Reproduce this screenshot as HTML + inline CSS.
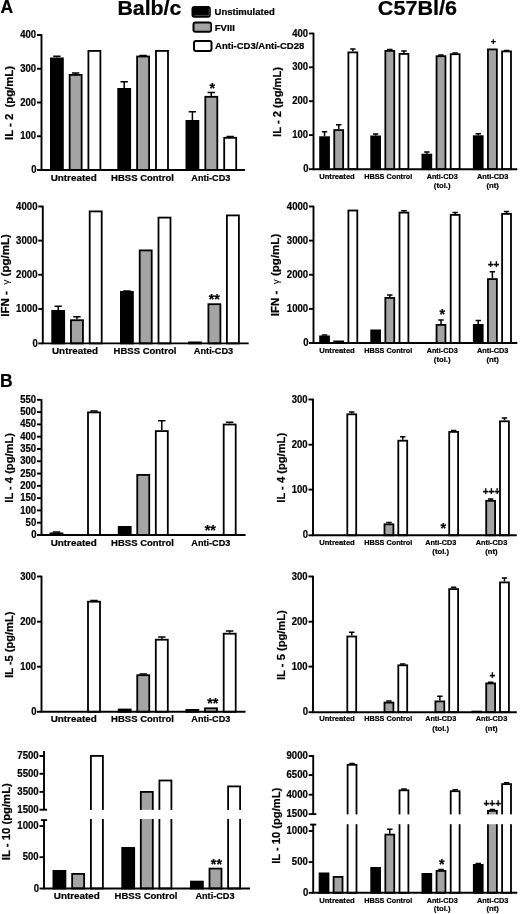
<!DOCTYPE html>
<html><head><meta charset="utf-8"><title>Figure</title>
<style>
html,body{margin:0;padding:0;background:#fff;}
body{width:520px;height:914px;overflow:hidden;font-family:"Liberation Sans",sans-serif;}
text{stroke:#000;stroke-width:0.22px;}
svg{display:block;will-change:transform;font-family:"Liberation Sans",sans-serif;font-weight:bold;fill:#000;}
</style></head><body>
<svg width="520" height="914" viewBox="0 0 520 914">
<rect width="520" height="914" fill="#fff"/>
<text x="0.4" y="13" font-size="17.5" text-anchor="start" >A</text>
<text x="0" y="386.8" font-size="17.5" text-anchor="start" >B</text>
<text x="117.4" y="15.4" font-size="20.5" text-anchor="start" textLength="64" lengthAdjust="spacingAndGlyphs">Balb/c</text>
<text x="377.8" y="15.4" font-size="20.5" text-anchor="start" textLength="79.2" lengthAdjust="spacingAndGlyphs">C57Bl/6</text>
<rect x="192.5" y="6.9" width="17.3" height="9.9" rx="2" fill="#000" stroke="#000" stroke-width="2"/>
<rect x="193.5" y="22.4" width="17.5" height="9.3" rx="2" fill="#a4a4a4" stroke="#000" stroke-width="2"/>
<rect x="194" y="41" width="17.5" height="10" rx="2" fill="#fff" stroke="#000" stroke-width="2"/>
<path d="M194.3,15.4 H209.2 V8.6" stroke="#6a6a6a" stroke-width="0.7" fill="none"/>
<path d="M195.2,30.4 H210.2 V23.8" stroke="#7c7c7c" stroke-width="0.7" fill="none"/>
<text x="214.6" y="14.6" font-size="9.5" text-anchor="start" >Unstimulated</text>
<text x="214.8" y="30.6" font-size="9.5" text-anchor="start" >FVIII</text>
<text x="215.1" y="48.7" font-size="9.5" text-anchor="start" >Anti-CD3/Anti-CD28</text>
<path d="M56.9,57.5 V56.2 M53.199999999999996,56.2 H60.6" stroke="#000" stroke-width="1.5" fill="none"/>
<rect x="50.9" y="58.4" width="12.0" height="111.6" fill="#000" stroke="#000" stroke-width="1.8"/>
<path d="M75.65,74 V73.0 M71.95,73.0 H79.35000000000001" stroke="#000" stroke-width="1.5" fill="none"/>
<rect x="69.65" y="74.9" width="12.0" height="95.1" fill="#a4a4a4" stroke="#000" stroke-width="1.8"/>
<rect x="88.4" y="50.9" width="12.0" height="119.1" fill="#fff" stroke="#000" stroke-width="1.8"/>
<path d="M124.2,88 V81.8 M120.5,81.8 H127.9" stroke="#000" stroke-width="1.5" fill="none"/>
<rect x="118.2" y="88.9" width="12.0" height="81.1" fill="#000" stroke="#000" stroke-width="1.8"/>
<path d="M143.1,55.6 V55.5 M139.4,55.5 H146.79999999999998" stroke="#000" stroke-width="1.5" fill="none"/>
<rect x="137.1" y="56.5" width="12.0" height="113.5" fill="#a4a4a4" stroke="#000" stroke-width="1.8"/>
<rect x="156.0" y="50.9" width="12.0" height="119.1" fill="#fff" stroke="#000" stroke-width="1.8"/>
<path d="M192.4,120 V111.7 M188.70000000000002,111.7 H196.1" stroke="#000" stroke-width="1.5" fill="none"/>
<rect x="186.4" y="120.9" width="12.0" height="49.1" fill="#000" stroke="#000" stroke-width="1.8"/>
<path d="M211.3,95.9 V92.5 M207.60000000000002,92.5 H215.0" stroke="#000" stroke-width="1.5" fill="none"/>
<rect x="205.3" y="96.80000000000001" width="12.0" height="73.19999999999999" fill="#a4a4a4" stroke="#000" stroke-width="1.8"/>
<path d="M230.20000000000002,136.9 V136.5 M226.50000000000003,136.5 H233.9" stroke="#000" stroke-width="1.5" fill="none"/>
<rect x="224.20000000000002" y="137.8" width="12.0" height="32.199999999999996" fill="#fff" stroke="#000" stroke-width="1.8"/>
<path d="M41.5,34.2 V170 H245" stroke="#000" stroke-width="1.9" fill="none" stroke-linejoin="miter"/>
<path d="M37.0,35 H41.5" stroke="#000" stroke-width="1.9"/>
<text x="36.0" y="38.1" font-size="10.3" text-anchor="end" textLength="15.85" lengthAdjust="spacingAndGlyphs">400</text>
<path d="M37.0,68.75 H41.5" stroke="#000" stroke-width="1.9"/>
<text x="36.0" y="71.85" font-size="10.3" text-anchor="end" textLength="15.85" lengthAdjust="spacingAndGlyphs">300</text>
<path d="M37.0,102.5 H41.5" stroke="#000" stroke-width="1.9"/>
<text x="36.0" y="105.6" font-size="10.3" text-anchor="end" textLength="15.85" lengthAdjust="spacingAndGlyphs">200</text>
<path d="M37.0,136.25 H41.5" stroke="#000" stroke-width="1.9"/>
<text x="36.0" y="139.35" font-size="10.3" text-anchor="end" textLength="15.85" lengthAdjust="spacingAndGlyphs">100</text>
<path d="M37.0,170 H41.5" stroke="#000" stroke-width="1.9"/>
<text x="36.5" y="173.1" font-size="10.3" text-anchor="end" textLength="5.3" lengthAdjust="spacingAndGlyphs">0</text>
<text x="73.7" y="181.2" font-size="9.5" text-anchor="middle" textLength="46" lengthAdjust="spacingAndGlyphs">Untreated</text>
<text x="142.5" y="181.2" font-size="9.5" text-anchor="middle" >HBSS Control</text>
<text x="210.8" y="181.2" font-size="9.5" text-anchor="middle" textLength="39" lengthAdjust="spacingAndGlyphs">Anti-CD3</text>
<text transform="translate(12.8,103) rotate(-90)" font-size="10.5" text-anchor="middle" xml:space="preserve" textLength="74" lengthAdjust="spacingAndGlyphs">IL - 2  (pg/mL)</text>
<text x="212.4" y="93.1" font-size="14.3" text-anchor="middle" >*</text>
<path d="M324.55,136.3 V131.8 M321.85,131.8 H327.25" stroke="#000" stroke-width="1.5" fill="none"/>
<rect x="320.09999999999997" y="137.20000000000002" width="8.899999999999999" height="31.99999999999998" fill="#000" stroke="#000" stroke-width="1.8"/>
<path d="M338.7,129.2 V124.7 M336.0,124.7 H341.4" stroke="#000" stroke-width="1.5" fill="none"/>
<rect x="334.24999999999994" y="130.1" width="8.899999999999999" height="39.1" fill="#a4a4a4" stroke="#000" stroke-width="1.8"/>
<path d="M352.85,51.5 V49.0 M350.15000000000003,49.0 H355.55" stroke="#000" stroke-width="1.5" fill="none"/>
<rect x="348.4" y="52.4" width="8.899999999999999" height="116.79999999999998" fill="#fff" stroke="#000" stroke-width="1.8"/>
<path d="M375.65000000000003,135.5 V134.0 M372.95000000000005,134.0 H378.35" stroke="#000" stroke-width="1.5" fill="none"/>
<rect x="371.2" y="136.4" width="8.899999999999999" height="32.79999999999999" fill="#000" stroke="#000" stroke-width="1.8"/>
<path d="M389.8,50 V49.5 M387.1,49.5 H392.5" stroke="#000" stroke-width="1.5" fill="none"/>
<rect x="385.34999999999997" y="50.9" width="8.899999999999999" height="118.29999999999998" fill="#a4a4a4" stroke="#000" stroke-width="1.8"/>
<path d="M403.95000000000005,53 V51.0 M401.25000000000006,51.0 H406.65000000000003" stroke="#000" stroke-width="1.5" fill="none"/>
<rect x="399.5" y="53.9" width="8.899999999999999" height="115.29999999999998" fill="#fff" stroke="#000" stroke-width="1.8"/>
<path d="M426.85,153.7 V152.1 M424.15000000000003,152.1 H429.55" stroke="#000" stroke-width="1.5" fill="none"/>
<rect x="422.4" y="154.6" width="8.899999999999999" height="14.6" fill="#000" stroke="#000" stroke-width="1.8"/>
<path d="M441.0,55.3 V54.9 M438.3,54.9 H443.7" stroke="#000" stroke-width="1.5" fill="none"/>
<rect x="436.54999999999995" y="56.199999999999996" width="8.899999999999999" height="112.99999999999999" fill="#a4a4a4" stroke="#000" stroke-width="1.8"/>
<path d="M455.15000000000003,53.3 V52.9 M452.45000000000005,52.9 H457.85" stroke="#000" stroke-width="1.5" fill="none"/>
<rect x="450.7" y="54.199999999999996" width="8.899999999999999" height="114.99999999999999" fill="#fff" stroke="#000" stroke-width="1.8"/>
<path d="M478.25,135.3 V133.8 M475.55,133.8 H480.95" stroke="#000" stroke-width="1.5" fill="none"/>
<rect x="473.79999999999995" y="136.20000000000002" width="8.899999999999999" height="32.99999999999998" fill="#000" stroke="#000" stroke-width="1.8"/>
<rect x="487.94999999999993" y="49.4" width="8.899999999999999" height="119.79999999999998" fill="#a4a4a4" stroke="#000" stroke-width="1.8"/>
<path d="M506.55,50.5 V50.5 M503.85,50.5 H509.25" stroke="#000" stroke-width="1.5" fill="none"/>
<rect x="502.09999999999997" y="51.4" width="8.899999999999999" height="117.79999999999998" fill="#fff" stroke="#000" stroke-width="1.8"/>
<path d="M313.5,32.7 V169.2 H517.3" stroke="#000" stroke-width="1.9" fill="none" stroke-linejoin="miter"/>
<path d="M309.0,33.5 H313.5" stroke="#000" stroke-width="1.9"/>
<text x="308.0" y="36.6" font-size="10.3" text-anchor="end" textLength="15.85" lengthAdjust="spacingAndGlyphs">400</text>
<path d="M309.0,67.3 H313.5" stroke="#000" stroke-width="1.9"/>
<text x="308.0" y="70.39999999999999" font-size="10.3" text-anchor="end" textLength="15.85" lengthAdjust="spacingAndGlyphs">300</text>
<path d="M309.0,101.2 H313.5" stroke="#000" stroke-width="1.9"/>
<text x="308.0" y="104.3" font-size="10.3" text-anchor="end" textLength="15.85" lengthAdjust="spacingAndGlyphs">200</text>
<path d="M309.0,135.1 H313.5" stroke="#000" stroke-width="1.9"/>
<text x="308.0" y="138.2" font-size="10.3" text-anchor="end" textLength="15.85" lengthAdjust="spacingAndGlyphs">100</text>
<path d="M309.0,169.2 H313.5" stroke="#000" stroke-width="1.9"/>
<text x="308.5" y="172.29999999999998" font-size="10.3" text-anchor="end" textLength="5.3" lengthAdjust="spacingAndGlyphs">0</text>
<text x="337" y="179" font-size="7.7" text-anchor="middle" textLength="35.6" lengthAdjust="spacingAndGlyphs">Untreated</text>
<text x="388.3" y="179" font-size="7.7" text-anchor="middle" textLength="48" lengthAdjust="spacingAndGlyphs">HBSS Control</text>
<text x="442.2" y="179" font-size="7.7" text-anchor="middle" textLength="31" lengthAdjust="spacingAndGlyphs">Anti-CD3</text>
<text x="442.2" y="188.3" font-size="7.7" text-anchor="middle" >(tol.)</text>
<text x="492.7" y="179" font-size="7.7" text-anchor="middle" textLength="31.5" lengthAdjust="spacingAndGlyphs">Anti-CD3</text>
<text x="492.7" y="188.3" font-size="7.7" text-anchor="middle" >(nt)</text>
<text transform="translate(281.2,101.9) rotate(-90)" font-size="11" text-anchor="middle" xml:space="preserve" textLength="70" lengthAdjust="spacingAndGlyphs">IL - 2 (pg/mL)</text>
<text x="493.4" y="45.3" font-size="9" text-anchor="middle" stroke="#000" stroke-width="0.35">+</text>
<path d="M58.199999999999996,310 V306.3 M54.49999999999999,306.3 H61.9" stroke="#000" stroke-width="1.5" fill="none"/>
<rect x="52.199999999999996" y="310.9" width="12.0" height="32.49999999999998" fill="#000" stroke="#000" stroke-width="1.8"/>
<path d="M76.95,319.3 V316.8 M73.25,316.8 H80.65" stroke="#000" stroke-width="1.5" fill="none"/>
<rect x="70.95" y="320.2" width="12.0" height="23.199999999999967" fill="#a4a4a4" stroke="#000" stroke-width="1.8"/>
<rect x="89.7" y="211.4" width="12.0" height="131.99999999999997" fill="#fff" stroke="#000" stroke-width="1.8"/>
<path d="M126.9,291 V291.0 M123.2,291.0 H130.6" stroke="#000" stroke-width="1.5" fill="none"/>
<rect x="120.9" y="291.9" width="12.0" height="51.49999999999998" fill="#000" stroke="#000" stroke-width="1.8"/>
<rect x="139.70000000000002" y="250.4" width="12.0" height="92.99999999999997" fill="#a4a4a4" stroke="#000" stroke-width="1.8"/>
<rect x="158.5" y="217.6" width="12.0" height="125.79999999999998" fill="#fff" stroke="#000" stroke-width="1.8"/>
<rect x="189.1" y="342.4" width="12.0" height="0.9999999999999772" fill="#000" stroke="#000" stroke-width="1.8"/>
<rect x="208.4" y="304.2" width="12.0" height="39.19999999999997" fill="#a4a4a4" stroke="#000" stroke-width="1.8"/>
<rect x="226.9" y="215.4" width="12.0" height="127.99999999999997" fill="#fff" stroke="#000" stroke-width="1.8"/>
<path d="M42.8,205.7 V343.4 H248.7" stroke="#000" stroke-width="1.9" fill="none" stroke-linejoin="miter"/>
<path d="M38.3,206.5 H42.8" stroke="#000" stroke-width="1.9"/>
<text x="37.5" y="209.6" font-size="10.3" text-anchor="end" textLength="21.4" lengthAdjust="spacingAndGlyphs">4000</text>
<path d="M38.3,240.6 H42.8" stroke="#000" stroke-width="1.9"/>
<text x="37.5" y="243.7" font-size="10.3" text-anchor="end" textLength="21.4" lengthAdjust="spacingAndGlyphs">3000</text>
<path d="M38.3,274.75 H42.8" stroke="#000" stroke-width="1.9"/>
<text x="37.5" y="277.85" font-size="10.3" text-anchor="end" textLength="21.4" lengthAdjust="spacingAndGlyphs">2000</text>
<path d="M38.3,308.9 H42.8" stroke="#000" stroke-width="1.9"/>
<text x="37.5" y="312.0" font-size="10.3" text-anchor="end" textLength="21.4" lengthAdjust="spacingAndGlyphs">1000</text>
<path d="M38.3,343.4 H42.8" stroke="#000" stroke-width="1.9"/>
<text x="37.8" y="346.5" font-size="10.3" text-anchor="end" textLength="5.3" lengthAdjust="spacingAndGlyphs">0</text>
<text x="75" y="354" font-size="9.5" text-anchor="middle" textLength="46" lengthAdjust="spacingAndGlyphs">Untreated</text>
<text x="145" y="354" font-size="9.5" text-anchor="middle" >HBSS Control</text>
<text x="213.5" y="354" font-size="9.5" text-anchor="middle" textLength="39.5" lengthAdjust="spacingAndGlyphs">Anti-CD3</text>
<text transform="translate(8.7,275.5) rotate(-90)" font-size="10.5" text-anchor="middle" xml:space="preserve" textLength="82.5" lengthAdjust="spacingAndGlyphs">IFN -  <tspan font-weight="normal" font-size="9.5" stroke-width="0">γ</tspan> (pg/mL)</text>
<text x="214.2" y="303.7" font-size="14.3" text-anchor="middle" >**</text>
<path d="M324.55,335.5 V335.0 M321.85,335.0 H327.25" stroke="#000" stroke-width="1.5" fill="none"/>
<rect x="320.09999999999997" y="336.4" width="8.899999999999999" height="6.6" fill="#000" stroke="#000" stroke-width="1.8"/>
<rect x="334.24999999999994" y="341.4" width="8.899999999999999" height="1.6" fill="#a4a4a4" stroke="#000" stroke-width="1.8"/>
<rect x="348.4" y="210.5" width="8.899999999999999" height="132.5" fill="#fff" stroke="#000" stroke-width="1.8"/>
<rect x="371.2" y="330.4" width="8.899999999999999" height="12.6" fill="#000" stroke="#000" stroke-width="1.8"/>
<path d="M389.8,297 V295.0 M387.1,295.0 H392.5" stroke="#000" stroke-width="1.5" fill="none"/>
<rect x="385.34999999999997" y="297.9" width="8.899999999999999" height="45.1" fill="#a4a4a4" stroke="#000" stroke-width="1.8"/>
<path d="M403.95000000000005,211.7 V210.7 M401.25000000000006,210.7 H406.65000000000003" stroke="#000" stroke-width="1.5" fill="none"/>
<rect x="399.5" y="212.6" width="8.899999999999999" height="130.4" fill="#fff" stroke="#000" stroke-width="1.8"/>
<path d="M441.0,324 V320.0 M438.3,320.0 H443.7" stroke="#000" stroke-width="1.5" fill="none"/>
<rect x="436.54999999999995" y="324.9" width="8.899999999999999" height="18.1" fill="#a4a4a4" stroke="#000" stroke-width="1.8"/>
<path d="M455.15000000000003,214 V212.5 M452.45000000000005,212.5 H457.85" stroke="#000" stroke-width="1.5" fill="none"/>
<rect x="450.7" y="214.9" width="8.899999999999999" height="128.1" fill="#fff" stroke="#000" stroke-width="1.8"/>
<path d="M478.25,324 V320.5 M475.55,320.5 H480.95" stroke="#000" stroke-width="1.5" fill="none"/>
<rect x="473.79999999999995" y="324.9" width="8.899999999999999" height="18.1" fill="#000" stroke="#000" stroke-width="1.8"/>
<path d="M492.4,278.2 V271.8 M489.7,271.8 H495.09999999999997" stroke="#000" stroke-width="1.5" fill="none"/>
<rect x="487.94999999999993" y="279.09999999999997" width="8.899999999999999" height="63.90000000000001" fill="#a4a4a4" stroke="#000" stroke-width="1.8"/>
<path d="M506.55,213 V211.5 M503.85,211.5 H509.25" stroke="#000" stroke-width="1.5" fill="none"/>
<rect x="502.09999999999997" y="213.9" width="8.899999999999999" height="129.1" fill="#fff" stroke="#000" stroke-width="1.8"/>
<path d="M313.5,205.7 V343 H517.3" stroke="#000" stroke-width="1.9" fill="none" stroke-linejoin="miter"/>
<path d="M309.0,206.5 H313.5" stroke="#000" stroke-width="1.9"/>
<text x="308.2" y="209.6" font-size="10.3" text-anchor="end" textLength="21.4" lengthAdjust="spacingAndGlyphs">4000</text>
<path d="M309.0,240.6 H313.5" stroke="#000" stroke-width="1.9"/>
<text x="308.2" y="243.7" font-size="10.3" text-anchor="end" textLength="21.4" lengthAdjust="spacingAndGlyphs">3000</text>
<path d="M309.0,274.75 H313.5" stroke="#000" stroke-width="1.9"/>
<text x="308.2" y="277.85" font-size="10.3" text-anchor="end" textLength="21.4" lengthAdjust="spacingAndGlyphs">2000</text>
<path d="M309.0,308.9 H313.5" stroke="#000" stroke-width="1.9"/>
<text x="308.2" y="312.0" font-size="10.3" text-anchor="end" textLength="21.4" lengthAdjust="spacingAndGlyphs">1000</text>
<path d="M309.0,343 H313.5" stroke="#000" stroke-width="1.9"/>
<text x="308.5" y="346.1" font-size="10.3" text-anchor="end" textLength="5.3" lengthAdjust="spacingAndGlyphs">0</text>
<text x="337" y="352.5" font-size="7.7" text-anchor="middle" textLength="35.6" lengthAdjust="spacingAndGlyphs">Untreated</text>
<text x="388.3" y="352.5" font-size="7.7" text-anchor="middle" textLength="48" lengthAdjust="spacingAndGlyphs">HBSS Control</text>
<text x="442.2" y="352.5" font-size="7.7" text-anchor="middle" textLength="31" lengthAdjust="spacingAndGlyphs">Anti-CD3</text>
<text x="442.2" y="362" font-size="7.7" text-anchor="middle" >(tol.)</text>
<text x="492.7" y="352.5" font-size="7.7" text-anchor="middle" textLength="31.5" lengthAdjust="spacingAndGlyphs">Anti-CD3</text>
<text x="492.7" y="362" font-size="7.7" text-anchor="middle" >(nt)</text>
<text transform="translate(279.2,275) rotate(-90)" font-size="11" text-anchor="middle" xml:space="preserve" textLength="82.5" lengthAdjust="spacingAndGlyphs">IFN -  <tspan font-weight="normal" font-size="9.5" stroke-width="0">γ</tspan> (pg/mL)</text>
<text x="442.3" y="318.9" font-size="14.3" text-anchor="middle" >*</text>
<text x="493.5" y="267.5" font-size="10" text-anchor="middle" stroke="#000" stroke-width="0.35">++</text>
<path d="M56.5,532.5 V532.0 M52.8,532.0 H60.2" stroke="#000" stroke-width="1.5" fill="none"/>
<rect x="50.5" y="533.4" width="12.0" height="1.6" fill="#000" stroke="#000" stroke-width="1.8"/>
<path d="M94.0,411.5 V411.0 M90.3,411.0 H97.7" stroke="#000" stroke-width="1.5" fill="none"/>
<rect x="88.0" y="412.4" width="12.0" height="122.6" fill="#fff" stroke="#000" stroke-width="1.8"/>
<rect x="118.7" y="526.9" width="12.0" height="8.1" fill="#000" stroke="#000" stroke-width="1.8"/>
<rect x="137.25" y="474.9" width="12.0" height="60.1" fill="#a4a4a4" stroke="#000" stroke-width="1.8"/>
<path d="M161.8,430.2 V420.8 M158.10000000000002,420.8 H165.5" stroke="#000" stroke-width="1.5" fill="none"/>
<rect x="155.8" y="431.09999999999997" width="12.0" height="103.9" fill="#fff" stroke="#000" stroke-width="1.8"/>
<path d="M229.70000000000002,423.6 V422.2 M226.00000000000003,422.2 H233.4" stroke="#000" stroke-width="1.5" fill="none"/>
<rect x="223.70000000000002" y="424.5" width="12.0" height="110.49999999999997" fill="#fff" stroke="#000" stroke-width="1.8"/>
<path d="M41.5,399.2 V535 H245.6" stroke="#000" stroke-width="1.9" fill="none" stroke-linejoin="miter"/>
<path d="M37.0,535.0 H41.5" stroke="#000" stroke-width="1.9"/>
<text x="36.5" y="538.1" font-size="10.3" text-anchor="end" textLength="5.3" lengthAdjust="spacingAndGlyphs">0</text>
<path d="M37.0,522.71 H41.5" stroke="#000" stroke-width="1.9"/>
<text x="36.2" y="525.8100000000001" font-size="10.3" text-anchor="end" textLength="10.6" lengthAdjust="spacingAndGlyphs">50</text>
<path d="M37.0,510.42 H41.5" stroke="#000" stroke-width="1.9"/>
<text x="36.0" y="513.52" font-size="10.3" text-anchor="end" textLength="15.85" lengthAdjust="spacingAndGlyphs">100</text>
<path d="M37.0,498.13 H41.5" stroke="#000" stroke-width="1.9"/>
<text x="36.0" y="501.23" font-size="10.3" text-anchor="end" textLength="15.85" lengthAdjust="spacingAndGlyphs">150</text>
<path d="M37.0,485.84000000000003 H41.5" stroke="#000" stroke-width="1.9"/>
<text x="36.0" y="488.94000000000005" font-size="10.3" text-anchor="end" textLength="15.85" lengthAdjust="spacingAndGlyphs">200</text>
<path d="M37.0,473.55 H41.5" stroke="#000" stroke-width="1.9"/>
<text x="36.0" y="476.65000000000003" font-size="10.3" text-anchor="end" textLength="15.85" lengthAdjust="spacingAndGlyphs">250</text>
<path d="M37.0,461.26 H41.5" stroke="#000" stroke-width="1.9"/>
<text x="36.0" y="464.36" font-size="10.3" text-anchor="end" textLength="15.85" lengthAdjust="spacingAndGlyphs">300</text>
<path d="M37.0,448.97 H41.5" stroke="#000" stroke-width="1.9"/>
<text x="36.0" y="452.07000000000005" font-size="10.3" text-anchor="end" textLength="15.85" lengthAdjust="spacingAndGlyphs">350</text>
<path d="M37.0,436.68 H41.5" stroke="#000" stroke-width="1.9"/>
<text x="36.0" y="439.78000000000003" font-size="10.3" text-anchor="end" textLength="15.85" lengthAdjust="spacingAndGlyphs">400</text>
<path d="M37.0,424.39 H41.5" stroke="#000" stroke-width="1.9"/>
<text x="36.0" y="427.49" font-size="10.3" text-anchor="end" textLength="15.85" lengthAdjust="spacingAndGlyphs">450</text>
<path d="M37.0,412.1 H41.5" stroke="#000" stroke-width="1.9"/>
<text x="36.0" y="415.20000000000005" font-size="10.3" text-anchor="end" textLength="15.85" lengthAdjust="spacingAndGlyphs">500</text>
<path d="M37.0,399.81 H41.5" stroke="#000" stroke-width="1.9"/>
<text x="36.0" y="402.91" font-size="10.3" text-anchor="end" textLength="15.85" lengthAdjust="spacingAndGlyphs">550</text>
<text x="73.7" y="545.5" font-size="9.5" text-anchor="middle" textLength="46" lengthAdjust="spacingAndGlyphs">Untreated</text>
<text x="142.5" y="545.5" font-size="9.5" text-anchor="middle" >HBSS Control</text>
<text x="210.8" y="545.5" font-size="9.5" text-anchor="middle" textLength="39" lengthAdjust="spacingAndGlyphs">Anti-CD3</text>
<text transform="translate(12.9,467.9) rotate(-90)" font-size="10.5" text-anchor="middle" xml:space="preserve" textLength="69.6" lengthAdjust="spacingAndGlyphs">IL - 4 (pg/mL)</text>
<text x="210.3" y="534.6" font-size="14.3" text-anchor="middle" >**</text>
<path d="M351.75000000000006,413.4 V412.1 M349.05000000000007,412.1 H354.45000000000005" stroke="#000" stroke-width="1.5" fill="none"/>
<rect x="347.3" y="414.29999999999995" width="8.899999999999999" height="120.99999999999997" fill="#fff" stroke="#000" stroke-width="1.8"/>
<path d="M388.95000000000005,523.4 V522.5 M386.25000000000006,522.5 H391.65000000000003" stroke="#000" stroke-width="1.5" fill="none"/>
<rect x="384.5" y="524.3" width="8.899999999999999" height="10.999999999999977" fill="#a4a4a4" stroke="#000" stroke-width="1.8"/>
<path d="M402.75000000000006,439.8 V436.7 M400.05000000000007,436.7 H405.45000000000005" stroke="#000" stroke-width="1.5" fill="none"/>
<rect x="398.3" y="440.7" width="8.899999999999999" height="94.59999999999994" fill="#fff" stroke="#000" stroke-width="1.8"/>
<path d="M453.65000000000003,431 V430.5 M450.95000000000005,430.5 H456.35" stroke="#000" stroke-width="1.5" fill="none"/>
<rect x="449.2" y="431.9" width="8.899999999999999" height="103.39999999999995" fill="#fff" stroke="#000" stroke-width="1.8"/>
<path d="M490.65000000000003,499.9 V498.9 M487.95000000000005,498.9 H493.35" stroke="#000" stroke-width="1.5" fill="none"/>
<rect x="486.2" y="500.79999999999995" width="8.899999999999999" height="34.49999999999998" fill="#a4a4a4" stroke="#000" stroke-width="1.8"/>
<path d="M504.45000000000005,420.4 V417.9 M501.75000000000006,417.9 H507.15000000000003" stroke="#000" stroke-width="1.5" fill="none"/>
<rect x="500.0" y="421.29999999999995" width="8.899999999999999" height="113.99999999999997" fill="#fff" stroke="#000" stroke-width="1.8"/>
<path d="M313.0,398.7 V535.3 H516.8" stroke="#000" stroke-width="1.9" fill="none" stroke-linejoin="miter"/>
<path d="M308.5,399.5 H313.0" stroke="#000" stroke-width="1.9"/>
<text x="307.5" y="402.6" font-size="10.3" text-anchor="end" textLength="15.85" lengthAdjust="spacingAndGlyphs">300</text>
<path d="M308.5,444.7 H313.0" stroke="#000" stroke-width="1.9"/>
<text x="307.5" y="447.8" font-size="10.3" text-anchor="end" textLength="15.85" lengthAdjust="spacingAndGlyphs">200</text>
<path d="M308.5,489.6 H313.0" stroke="#000" stroke-width="1.9"/>
<text x="307.5" y="492.70000000000005" font-size="10.3" text-anchor="end" textLength="15.85" lengthAdjust="spacingAndGlyphs">100</text>
<path d="M308.5,535.3 H313.0" stroke="#000" stroke-width="1.9"/>
<text x="308.0" y="538.4" font-size="10.3" text-anchor="end" textLength="5.3" lengthAdjust="spacingAndGlyphs">0</text>
<text x="337" y="544.5" font-size="7.7" text-anchor="middle" textLength="35.6" lengthAdjust="spacingAndGlyphs">Untreated</text>
<text x="388.3" y="544.5" font-size="7.7" text-anchor="middle" textLength="48" lengthAdjust="spacingAndGlyphs">HBSS Control</text>
<text x="440.7" y="544.5" font-size="7.7" text-anchor="middle" textLength="31" lengthAdjust="spacingAndGlyphs">Anti-CD3</text>
<text x="440.7" y="554.3" font-size="7.7" text-anchor="middle" >(tol.)</text>
<text x="491.5" y="544.5" font-size="7.7" text-anchor="middle" textLength="31.5" lengthAdjust="spacingAndGlyphs">Anti-CD3</text>
<text x="491.5" y="554.3" font-size="7.7" text-anchor="middle" >(nt)</text>
<text transform="translate(284.6,467.8) rotate(-90)" font-size="11" text-anchor="middle" xml:space="preserve" textLength="69.8" lengthAdjust="spacingAndGlyphs">IL - 4 (pg/mL)</text>
<text x="443.3" y="532.6" font-size="14.3" text-anchor="middle" >*</text>
<text x="491.4" y="495.3" font-size="10" text-anchor="middle" stroke="#000" stroke-width="0.35">+++</text>
<path d="M94.0,600.8 V600.5 M90.3,600.5 H97.7" stroke="#000" stroke-width="1.5" fill="none"/>
<rect x="88.0" y="601.6999999999999" width="12.0" height="110.1" fill="#fff" stroke="#000" stroke-width="1.8"/>
<rect x="118.7" y="709.5" width="12.0" height="2.299999999999932" fill="#000" stroke="#000" stroke-width="1.8"/>
<path d="M143.25,674.3 V674.0 M139.55,674.0 H146.95" stroke="#000" stroke-width="1.5" fill="none"/>
<rect x="137.25" y="675.1999999999999" width="12.0" height="36.6" fill="#a4a4a4" stroke="#000" stroke-width="1.8"/>
<path d="M161.8,638.8 V637.1 M158.10000000000002,637.1 H165.5" stroke="#000" stroke-width="1.5" fill="none"/>
<rect x="155.8" y="639.6999999999999" width="12.0" height="72.1" fill="#fff" stroke="#000" stroke-width="1.8"/>
<rect x="186.3" y="709.9" width="12.0" height="1.8999999999999546" fill="#000" stroke="#000" stroke-width="1.8"/>
<rect x="205.0" y="708.3" width="12.0" height="3.4999999999999774" fill="#a4a4a4" stroke="#000" stroke-width="1.8"/>
<path d="M229.70000000000002,632.8 V631.0 M226.00000000000003,631.0 H233.4" stroke="#000" stroke-width="1.5" fill="none"/>
<rect x="223.70000000000002" y="633.6999999999999" width="12.0" height="78.1" fill="#fff" stroke="#000" stroke-width="1.8"/>
<path d="M41.5,575.7 V711.8 H245.6" stroke="#000" stroke-width="1.9" fill="none" stroke-linejoin="miter"/>
<path d="M37.0,576.5 H41.5" stroke="#000" stroke-width="1.9"/>
<text x="36.0" y="579.6" font-size="10.3" text-anchor="end" textLength="15.85" lengthAdjust="spacingAndGlyphs">300</text>
<path d="M37.0,621.7 H41.5" stroke="#000" stroke-width="1.9"/>
<text x="36.0" y="624.8000000000001" font-size="10.3" text-anchor="end" textLength="15.85" lengthAdjust="spacingAndGlyphs">200</text>
<path d="M37.0,666.7 H41.5" stroke="#000" stroke-width="1.9"/>
<text x="36.0" y="669.8000000000001" font-size="10.3" text-anchor="end" textLength="15.85" lengthAdjust="spacingAndGlyphs">100</text>
<path d="M37.0,711.8 H41.5" stroke="#000" stroke-width="1.9"/>
<text x="36.5" y="714.9" font-size="10.3" text-anchor="end" textLength="5.3" lengthAdjust="spacingAndGlyphs">0</text>
<text x="73.7" y="722.3" font-size="9.5" text-anchor="middle" textLength="46" lengthAdjust="spacingAndGlyphs">Untreated</text>
<text x="142.5" y="722.3" font-size="9.5" text-anchor="middle" >HBSS Control</text>
<text x="210.8" y="722.3" font-size="9.5" text-anchor="middle" textLength="39" lengthAdjust="spacingAndGlyphs">Anti-CD3</text>
<text transform="translate(12.9,644.7) rotate(-90)" font-size="10.5" text-anchor="middle" xml:space="preserve" textLength="66.2" lengthAdjust="spacingAndGlyphs">IL -5 (pg/mL)</text>
<text x="212.8" y="708.0" font-size="14.3" text-anchor="middle" >**</text>
<path d="M351.75000000000006,635.6 V632.2 M349.05000000000007,632.2 H354.45000000000005" stroke="#000" stroke-width="1.5" fill="none"/>
<rect x="347.3" y="636.5" width="8.899999999999999" height="75.70000000000002" fill="#fff" stroke="#000" stroke-width="1.8"/>
<path d="M388.95000000000005,701.7 V701.0 M386.25000000000006,701.0 H391.65000000000003" stroke="#000" stroke-width="1.5" fill="none"/>
<rect x="384.5" y="702.6" width="8.899999999999999" height="9.6" fill="#a4a4a4" stroke="#000" stroke-width="1.8"/>
<path d="M402.75000000000006,664.4 V664.1 M400.05000000000007,664.1 H405.45000000000005" stroke="#000" stroke-width="1.5" fill="none"/>
<rect x="398.3" y="665.3" width="8.899999999999999" height="46.90000000000007" fill="#fff" stroke="#000" stroke-width="1.8"/>
<path d="M439.85,700.5 V696.3 M437.15000000000003,696.3 H442.55" stroke="#000" stroke-width="1.5" fill="none"/>
<rect x="435.4" y="701.4" width="8.899999999999999" height="10.800000000000045" fill="#a4a4a4" stroke="#000" stroke-width="1.8"/>
<path d="M453.65000000000003,588.2 V587.3 M450.95000000000005,587.3 H456.35" stroke="#000" stroke-width="1.5" fill="none"/>
<rect x="449.2" y="589.1" width="8.899999999999999" height="123.1" fill="#fff" stroke="#000" stroke-width="1.8"/>
<rect x="472.4" y="711.6" width="8.899999999999999" height="0.6" fill="#000" stroke="#000" stroke-width="1.8"/>
<path d="M490.65000000000003,682.5 V682.2 M487.95000000000005,682.2 H493.35" stroke="#000" stroke-width="1.5" fill="none"/>
<rect x="486.2" y="683.4" width="8.899999999999999" height="28.800000000000047" fill="#a4a4a4" stroke="#000" stroke-width="1.8"/>
<path d="M504.45000000000005,581.5 V578.0 M501.75000000000006,578.0 H507.15000000000003" stroke="#000" stroke-width="1.5" fill="none"/>
<rect x="500.0" y="582.4" width="8.899999999999999" height="129.80000000000004" fill="#fff" stroke="#000" stroke-width="1.8"/>
<path d="M313.0,575.7 V712.2 H516.8" stroke="#000" stroke-width="1.9" fill="none" stroke-linejoin="miter"/>
<path d="M308.5,576.5 H313.0" stroke="#000" stroke-width="1.9"/>
<text x="307.5" y="579.6" font-size="10.3" text-anchor="end" textLength="15.85" lengthAdjust="spacingAndGlyphs">300</text>
<path d="M308.5,621.7 H313.0" stroke="#000" stroke-width="1.9"/>
<text x="307.5" y="624.8000000000001" font-size="10.3" text-anchor="end" textLength="15.85" lengthAdjust="spacingAndGlyphs">200</text>
<path d="M308.5,666.6 H313.0" stroke="#000" stroke-width="1.9"/>
<text x="307.5" y="669.7" font-size="10.3" text-anchor="end" textLength="15.85" lengthAdjust="spacingAndGlyphs">100</text>
<path d="M308.5,712.2 H313.0" stroke="#000" stroke-width="1.9"/>
<text x="308.0" y="715.3000000000001" font-size="10.3" text-anchor="end" textLength="5.3" lengthAdjust="spacingAndGlyphs">0</text>
<text x="337" y="721.4" font-size="7.7" text-anchor="middle" textLength="35.6" lengthAdjust="spacingAndGlyphs">Untreated</text>
<text x="388.3" y="721.4" font-size="7.7" text-anchor="middle" textLength="48" lengthAdjust="spacingAndGlyphs">HBSS Control</text>
<text x="440.7" y="721.4" font-size="7.7" text-anchor="middle" textLength="31" lengthAdjust="spacingAndGlyphs">Anti-CD3</text>
<text x="440.7" y="730.7" font-size="7.7" text-anchor="middle" >(tol.)</text>
<text x="491.5" y="721.4" font-size="7.7" text-anchor="middle" textLength="31.5" lengthAdjust="spacingAndGlyphs">Anti-CD3</text>
<text x="491.5" y="730.7" font-size="7.7" text-anchor="middle" >(nt)</text>
<text transform="translate(284.6,645.1) rotate(-90)" font-size="11" text-anchor="middle" xml:space="preserve" textLength="69.8" lengthAdjust="spacingAndGlyphs">IL - 5 (pg/mL)</text>
<text x="492.5" y="679" font-size="10" text-anchor="middle" stroke="#000" stroke-width="0.35">+</text>
<rect x="53.4" y="870.9" width="12.0" height="17.6" fill="#000" stroke="#000" stroke-width="1.8"/>
<rect x="72.15" y="873.9" width="12.0" height="14.6" fill="#a4a4a4" stroke="#000" stroke-width="1.8"/>
<rect x="90.9" y="755.9" width="12.0" height="132.6" fill="#fff" stroke="#000" stroke-width="1.8"/>
<rect x="89.0" y="809.9" width="15.8" height="9.100000000000023" fill="#fff"/>
<rect x="122.2" y="847.9" width="12.0" height="40.6" fill="#000" stroke="#000" stroke-width="1.8"/>
<rect x="140.8" y="791.9" width="12.0" height="96.6" fill="#a4a4a4" stroke="#000" stroke-width="1.8"/>
<rect x="138.9" y="809.9" width="15.8" height="9.100000000000023" fill="#fff"/>
<rect x="159.4" y="780.5" width="12.0" height="107.99999999999997" fill="#fff" stroke="#000" stroke-width="1.8"/>
<rect x="157.5" y="809.9" width="15.8" height="9.100000000000023" fill="#fff"/>
<rect x="190.9" y="881.6" width="12.0" height="6.899999999999954" fill="#000" stroke="#000" stroke-width="1.8"/>
<rect x="209.5" y="868.6" width="12.0" height="19.899999999999956" fill="#a4a4a4" stroke="#000" stroke-width="1.8"/>
<rect x="228.1" y="786.4" width="12.0" height="102.1" fill="#fff" stroke="#000" stroke-width="1.8"/>
<rect x="226.2" y="809.9" width="15.8" height="9.100000000000023" fill="#fff"/>
<path d="M44,751 V809.7" stroke="#000" stroke-width="1.9" fill="none"/>
<path d="M44,820.1 V888.5 H250" stroke="#000" stroke-width="1.9" fill="none"/>
<path d="M39.5,809.7 H47.1" stroke="#000" stroke-width="1.9"/>
<path d="M40.9,820.1 H47.1" stroke="#000" stroke-width="1.9"/>
<path d="M39.5,756 H44" stroke="#000" stroke-width="1.9"/>
<text x="38.7" y="759.1" font-size="10.3" text-anchor="end" textLength="21.4" lengthAdjust="spacingAndGlyphs">7500</text>
<path d="M39.5,773.8 H44" stroke="#000" stroke-width="1.9"/>
<text x="38.7" y="776.9" font-size="10.3" text-anchor="end" textLength="21.4" lengthAdjust="spacingAndGlyphs">5500</text>
<path d="M39.5,791.9 H44" stroke="#000" stroke-width="1.9"/>
<text x="38.7" y="795.0" font-size="10.3" text-anchor="end" textLength="21.4" lengthAdjust="spacingAndGlyphs">3500</text>
<path d="M39.5,826.1 H44" stroke="#000" stroke-width="1.9"/>
<text x="38.7" y="829.2" font-size="10.3" text-anchor="end" textLength="21.4" lengthAdjust="spacingAndGlyphs">1000</text>
<path d="M39.5,857.2 H44" stroke="#000" stroke-width="1.9"/>
<text x="38.5" y="860.3000000000001" font-size="10.3" text-anchor="end" textLength="15.85" lengthAdjust="spacingAndGlyphs">500</text>
<path d="M39.5,888.5 H44" stroke="#000" stroke-width="1.9"/>
<text x="39.0" y="891.6" font-size="10.3" text-anchor="end" textLength="5.3" lengthAdjust="spacingAndGlyphs">0</text>
<text x="76.8" y="899.4" font-size="9.5" text-anchor="middle" textLength="46" lengthAdjust="spacingAndGlyphs">Untreated</text>
<text x="146" y="899.4" font-size="9.5" text-anchor="middle" >HBSS Control</text>
<text x="215" y="899.4" font-size="9.5" text-anchor="middle" textLength="39.2" lengthAdjust="spacingAndGlyphs">Anti-CD3</text>
<text transform="translate(10.2,821.7) rotate(-90)" font-size="10.5" text-anchor="middle" xml:space="preserve" textLength="77" lengthAdjust="spacingAndGlyphs">IL - 10 (pg/mL)</text>
<text x="216.4" y="868.6" font-size="14.3" text-anchor="middle" >**</text>
<text x="38.7" y="812.8000000000001" font-size="10.3" text-anchor="end" textLength="21.4" lengthAdjust="spacingAndGlyphs">1500</text>
<rect x="319.59999999999997" y="873.4" width="8.899999999999999" height="19.399999999999956" fill="#000" stroke="#000" stroke-width="1.8"/>
<rect x="333.59999999999997" y="876.9" width="8.899999999999999" height="15.899999999999954" fill="#a4a4a4" stroke="#000" stroke-width="1.8"/>
<path d="M352.05,763.9 V763.4 M349.35,763.4 H354.75" stroke="#000" stroke-width="1.5" fill="none"/>
<rect x="347.59999999999997" y="764.8" width="8.899999999999999" height="127.99999999999997" fill="#fff" stroke="#000" stroke-width="1.8"/>
<rect x="345.7" y="814.4" width="12.7" height="9.800000000000068" fill="#fff"/>
<rect x="371.2" y="867.9" width="8.899999999999999" height="24.899999999999956" fill="#000" stroke="#000" stroke-width="1.8"/>
<path d="M389.8,833.7 V829.3 M387.1,829.3 H392.5" stroke="#000" stroke-width="1.5" fill="none"/>
<rect x="385.34999999999997" y="834.6" width="8.899999999999999" height="58.19999999999991" fill="#a4a4a4" stroke="#000" stroke-width="1.8"/>
<path d="M403.95000000000005,789.4 V788.9 M401.25000000000006,788.9 H406.65000000000003" stroke="#000" stroke-width="1.5" fill="none"/>
<rect x="399.5" y="790.3" width="8.899999999999999" height="102.49999999999997" fill="#fff" stroke="#000" stroke-width="1.8"/>
<rect x="397.6" y="814.4" width="12.7" height="9.800000000000068" fill="#fff"/>
<rect x="422.4" y="873.9" width="8.899999999999999" height="18.899999999999956" fill="#000" stroke="#000" stroke-width="1.8"/>
<path d="M441.0,870 V869.5 M438.3,869.5 H443.7" stroke="#000" stroke-width="1.5" fill="none"/>
<rect x="436.54999999999995" y="870.9" width="8.899999999999999" height="21.899999999999956" fill="#a4a4a4" stroke="#000" stroke-width="1.8"/>
<path d="M455.15000000000003,790.3 V789.8 M452.45000000000005,789.8 H457.85" stroke="#000" stroke-width="1.5" fill="none"/>
<rect x="450.7" y="791.1999999999999" width="8.899999999999999" height="101.6" fill="#fff" stroke="#000" stroke-width="1.8"/>
<rect x="448.8" y="814.4" width="12.7" height="9.800000000000068" fill="#fff"/>
<path d="M478.25,864 V863.5 M475.55,863.5 H480.95" stroke="#000" stroke-width="1.5" fill="none"/>
<rect x="473.79999999999995" y="864.9" width="8.899999999999999" height="27.899999999999956" fill="#000" stroke="#000" stroke-width="1.8"/>
<path d="M492.4,809.9 V809.5 M489.7,809.5 H495.09999999999997" stroke="#000" stroke-width="1.5" fill="none"/>
<rect x="487.94999999999993" y="810.8" width="8.899999999999999" height="81.99999999999997" fill="#a4a4a4" stroke="#000" stroke-width="1.8"/>
<rect x="486.04999999999995" y="814.4" width="12.7" height="9.800000000000068" fill="#fff"/>
<path d="M506.55,783.2 V782.8 M503.85,782.8 H509.25" stroke="#000" stroke-width="1.5" fill="none"/>
<rect x="502.09999999999997" y="784.1" width="8.899999999999999" height="108.6999999999999" fill="#fff" stroke="#000" stroke-width="1.8"/>
<rect x="500.2" y="814.4" width="12.7" height="9.800000000000068" fill="#fff"/>
<path d="M313.2,755.1 V814.1" stroke="#000" stroke-width="1.9" fill="none"/>
<path d="M313.2,824.6 V892.8 H517.3" stroke="#000" stroke-width="1.9" fill="none"/>
<path d="M308.7,814.1 H316.3" stroke="#000" stroke-width="1.9"/>
<path d="M310.09999999999997,824.6 H316.3" stroke="#000" stroke-width="1.9"/>
<path d="M308.7,756 H313.2" stroke="#000" stroke-width="1.9"/>
<text x="307.9" y="759.1" font-size="10.3" text-anchor="end" textLength="21.4" lengthAdjust="spacingAndGlyphs">9000</text>
<path d="M308.7,775.1 H313.2" stroke="#000" stroke-width="1.9"/>
<text x="307.9" y="778.2" font-size="10.3" text-anchor="end" textLength="21.4" lengthAdjust="spacingAndGlyphs">6500</text>
<path d="M308.7,794.7 H313.2" stroke="#000" stroke-width="1.9"/>
<text x="307.9" y="797.8000000000001" font-size="10.3" text-anchor="end" textLength="21.4" lengthAdjust="spacingAndGlyphs">4000</text>
<path d="M308.7,831 H313.2" stroke="#000" stroke-width="1.9"/>
<text x="307.9" y="834.1" font-size="10.3" text-anchor="end" textLength="21.4" lengthAdjust="spacingAndGlyphs">1000</text>
<path d="M308.7,862.1 H313.2" stroke="#000" stroke-width="1.9"/>
<text x="307.7" y="865.2" font-size="10.3" text-anchor="end" textLength="15.85" lengthAdjust="spacingAndGlyphs">500</text>
<path d="M308.7,892.8 H313.2" stroke="#000" stroke-width="1.9"/>
<text x="308.2" y="895.9" font-size="10.3" text-anchor="end" textLength="5.3" lengthAdjust="spacingAndGlyphs">0</text>
<text x="337" y="902.6" font-size="7.7" text-anchor="middle" textLength="35.6" lengthAdjust="spacingAndGlyphs">Untreated</text>
<text x="388.3" y="902.6" font-size="7.7" text-anchor="middle" textLength="48" lengthAdjust="spacingAndGlyphs">HBSS Control</text>
<text x="442.2" y="902.6" font-size="7.7" text-anchor="middle" textLength="31" lengthAdjust="spacingAndGlyphs">Anti-CD3</text>
<text x="442.2" y="911.2" font-size="7.7" text-anchor="middle" >(tol.)</text>
<text x="492.7" y="902.6" font-size="7.7" text-anchor="middle" textLength="31.5" lengthAdjust="spacingAndGlyphs">Anti-CD3</text>
<text x="492.7" y="911.2" font-size="7.7" text-anchor="middle" >(nt)</text>
<text transform="translate(280,825.8) rotate(-90)" font-size="11" text-anchor="middle" xml:space="preserve" textLength="76" lengthAdjust="spacingAndGlyphs">IL - 10 (pg/mL)</text>
<text x="441.7" y="869.1" font-size="14.3" text-anchor="middle" >*</text>
<text x="492.3" y="806.8" font-size="10" text-anchor="middle" stroke="#000" stroke-width="0.35">+++</text>
<text x="307.9" y="817.2" font-size="10.3" text-anchor="end" textLength="21.4" lengthAdjust="spacingAndGlyphs">1500</text>
</svg>
</body></html>
